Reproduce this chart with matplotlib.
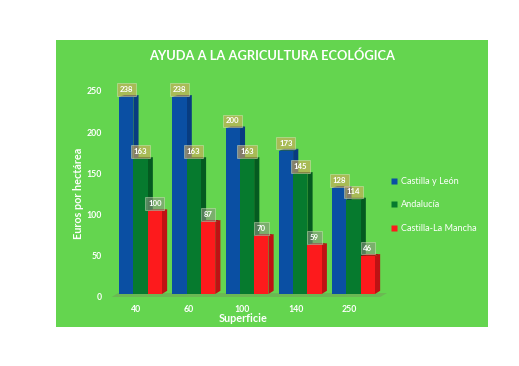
import matplotlib
matplotlib.use("Agg")
import matplotlib.pyplot as plt
from matplotlib.patches import Polygon, Rectangle
from matplotlib.lines import Line2D

categories = ["40", "60", "100", "140", "250"]
series_names = ["Castilla y León", "Andalucía", "Castilla-La Mancha"]
castilla_leon = [238, 238, 200, 173, 128]
andalucia = [163, 163, 163, 145, 114]
castilla_mancha = [100, 87, 70, 59, 46]
series_values = [castilla_leon, andalucia, castilla_mancha]
y_ticks = [0, 50, 100, 150, 200, 250]

W, H = 519, 366
PANEL = "#64D54F"
FRONT = ["#0A4FA3", "#067A2E", "#FD1A1C"]
SIDE = ["#083C80", "#045A20", "#BE1214"]
TOP = ["#073468", "#04501C", "#A81012"]
LABEL_FC = ["#D7AA5C", "#D7AA5C", "#8C9682"]

plt.rcParams["font.family"] = ["Lato", "DejaVu Sans"]
fig = plt.figure(figsize=(W / 100, H / 100), dpi=100, facecolor="white")

def px_axes(x0, y0, x1, y1):
    return fig.add_axes([x0 / W, 1 - y1 / H, (x1 - x0) / W, (y1 - y0) / H])

fig.add_artist(Rectangle((56 / W, 1 - 327 / H), 432 / W, 287 / H,
                         transform=fig.transFigure, fc=PANEL, ec="none", zorder=-5))

STEP = 53.25
PXY = 0.828
X0 = 140.5
BASE = 294
ax = px_axes(56, 40, 488, 327)
ax.set_xlim((56 - X0) / STEP, (488 - X0) / STEP)
ax.set_ylim((BASE - 327) / PXY, (BASE - 40) / PXY)
ax.axis("off")

bw = 14.3 / STEP
dx = 5.2 / STEP
dy = 3.2 / PXY
n = len(categories)

floor = Polygon([(-0.54, -3 / PXY), (4.50, -3 / PXY), (4.63, 1 / PXY), (-0.42, 1 / PXY)],
                closed=True, fc="#6BB853", ec="none", zorder=1)
ax.add_patch(floor)

for s, vals in enumerate(series_values):
    z = 2 + s * 2
    xs = [i + (s - 1) * bw for i in range(n)]
    ax.bar(xs, vals, width=bw, color=FRONT[s], zorder=z + 1, linewidth=0)
    for x, v in zip(xs, vals):
        r = x + bw / 2
        l = x - bw / 2
        ax.add_patch(Polygon([(r, 0), (r + dx, dy), (r + dx, v + dy * 0.6), (r, v)],
                             closed=True, fc=SIDE[s], ec="none", zorder=z))
        ax.add_patch(Polygon([(l, v), (r, v), (r + dx, v + dy * 0.6), (l + dx, v + dy * 0.6)],
                             closed=True, fc=TOP[s], ec="none", zorder=z))

for s, vals in enumerate(series_values):
    xs = [i + (s - 1) * bw for i in range(n)]
    for x, v in zip(xs, vals):
        ax.annotate(str(v), (x, v), xytext=(0, 5.5), textcoords="offset points",
                    ha="center", va="center", color="white", fontsize=5.6, fontweight="bold",
                    zorder=20,
                    bbox=dict(boxstyle="square,pad=0.35", fc=LABEL_FC[s], ec="#DCEBC8",
                              lw=0.5, alpha=0.6))

ax2 = px_axes(104, 91, 380, 297)
ax2.patch.set_alpha(0)
ax2.set_xlim((104 - 136) / STEP, (380 - 136) / STEP)
ax2.set_ylim(0, 250)
for sp in ax2.spines.values():
    sp.set_visible(False)
ax2.set_xticks(range(n), categories)
ax2.set_yticks(y_ticks)
ax2.tick_params(length=0, colors="white", labelsize=6.3, pad=1.5)
ax2.tick_params(axis="x", pad=5.5)
for t in ax2.get_xticklabels() + ax2.get_yticklabels():
    t.set_fontweight("bold")
ax2.set_xlabel("Superficie", color="white", fontsize=7.8, fontweight="bold")
ax2.xaxis.set_label_coords((243 - 104) / 276, -(318.5 - 297) / 206, transform=ax2.transAxes)
ax2.xaxis.label.set_va("center")
ax2.set_ylabel("Euros por hectárea", color="white", fontsize=7.8, fontweight="bold")
ax2.yaxis.set_label_coords(-(104 - 78) / 276, (297 - 193) / 206, transform=ax2.transAxes)
ax2.yaxis.label.set_va("center")

fig.text(272 / W, 1 - 56 / H, "AYUDA A LA AGRICULTURA ECOLÓGICA", color="white",
         fontsize=9.25, fontweight="bold", ha="center", va="center")

handles = [Line2D([], [], ls="none", marker="s", ms=4.2, mfc=c, mec="none") for c in FRONT]
leg = fig.legend(handles, series_names, loc="center left",
                 bbox_to_anchor=(388 / W, 1 - 205 / H), frameon=False, fontsize=6.6,
                 labelcolor="white", handletextpad=0.0, handlelength=1.4,
                 labelspacing=1.6, borderpad=0, borderaxespad=0)

fig.savefig("out.png", dpi=100, facecolor="white")
